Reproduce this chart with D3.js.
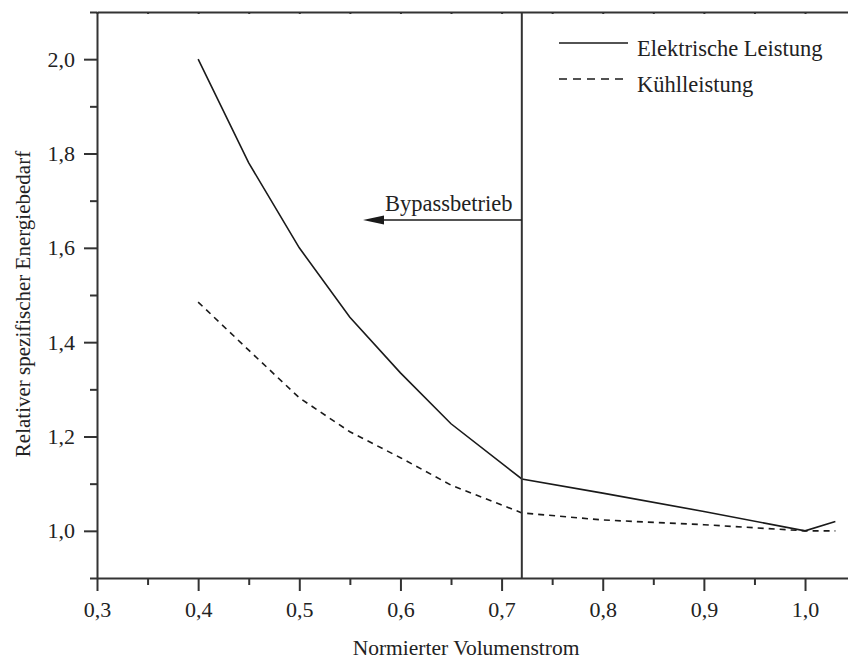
<!DOCTYPE html>
<html>
<head>
<meta charset="utf-8">
<script src="https://cdn.jsdelivr.net/npm/d3@7"></script>
<style>
  body { margin: 0; background: #fff; }
  svg { display: block; font-family: "Liberation Serif", serif; }
  .axis text { font-size: 22px; fill: #222; font-family: "Liberation Serif", serif; }
  .axis path, .axis line { stroke: #333; stroke-width: 2; }
</style>
</head>
<body>
<div class="graph"></div>
<script>
// data
const volumen = [0.4, 0.45, 0.5, 0.55, 0.6, 0.65, 0.72, 0.8, 0.9, 1.0, 1.03];
const elektrisch = [2.0, 1.78, 1.6, 1.453, 1.335, 1.227, 1.11, 1.08, 1.041, 1.0, 1.02];
const kuehlung = [1.485, 1.383, 1.282, 1.21, 1.155, 1.097, 1.038, 1.023, 1.013, 1.0, 1.0];

const xMajor = [0.3, 0.4, 0.5, 0.6, 0.7, 0.8, 0.9, 1.0];
const xMinor = [0.35, 0.45, 0.55, 0.65, 0.75, 0.85, 0.95];
const yMajor = [1.0, 1.2, 1.4, 1.6, 1.8, 2.0];
const yMinor = [0.9, 1.1, 1.3, 1.5, 1.7, 1.9, 2.1];

const bypassX = 0.72;
const seriesNames = ['Elektrische Leistung', 'Kühlleistung'];

const width = 848;
const height = 659;

const svg = d3.select('.graph').append('svg')
  .attr('width', width)
  .attr('height', height);

const x = d3.scaleLinear().domain([0.3, 1.05]).range([97, 855.6]);
const y = d3.scaleLinear().domain([0.9, 2.1]).range([578, 12]);

const fmt = d => d3.format('.1f')(d).replace('.', ',');

// bottom axis
svg.append('g')
  .attr('class', 'axis')
  .attr('transform', 'translate(0,' + y(0.9) + ')')
  .call(d3.axisBottom(x).tickValues(xMajor).tickFormat(fmt).tickSize(13).tickSizeOuter(0).tickPadding(10));

svg.append('g')
  .attr('class', 'axis')
  .attr('transform', 'translate(0,' + y(0.9) + ')')
  .call(d3.axisBottom(x).tickValues(xMinor).tickFormat('').tickSize(7).tickSizeOuter(0))
  .select('.domain').remove();

// left axis
svg.append('g')
  .attr('class', 'axis')
  .attr('transform', 'translate(' + x(0.3) + ',0)')
  .call(d3.axisLeft(y).tickValues(yMajor).tickFormat(fmt).tickSize(13).tickSizeOuter(0).tickPadding(9));

svg.append('g')
  .attr('class', 'axis')
  .attr('transform', 'translate(' + x(0.3) + ',0)')
  .call(d3.axisLeft(y).tickValues(yMinor).tickFormat('').tickSize(7).tickSizeOuter(0))
  .select('.domain').remove();

// top frame line with tiny inner ticks
svg.append('g')
  .attr('class', 'axis')
  .attr('transform', 'translate(0,' + y(2.1) + ')')
  .call(d3.axisTop(x).tickValues(xMajor.concat(xMinor)).tickFormat('').tickSize(-2).tickSizeOuter(0));

// series lines
const line = d3.line()
  .x((d, i) => x(volumen[i]))
  .y(d => y(d));

svg.append('path')
  .datum(elektrisch)
  .attr('d', line)
  .attr('fill', 'none')
  .attr('stroke', '#1a1a1a')
  .attr('stroke-width', 1.6);

svg.append('path')
  .datum(kuehlung)
  .attr('d', line)
  .attr('fill', 'none')
  .attr('stroke', '#1a1a1a')
  .attr('stroke-width', 1.6)
  .attr('stroke-dasharray', '6,5');

// bypass marker
svg.append('line')
  .attr('x1', x(bypassX)).attr('x2', x(bypassX))
  .attr('y1', y(2.1)).attr('y2', y(0.9))
  .attr('stroke', '#333')
  .attr('stroke-width', 2);

const arrowY = 220;
const tipX = 363;
svg.append('line')
  .attr('x1', x(bypassX)).attr('x2', tipX + 12)
  .attr('y1', arrowY).attr('y2', arrowY)
  .attr('stroke', '#1a1a1a')
  .attr('stroke-width', 1.6);

svg.append('path')
  .attr('d', 'M' + tipX + ',' + arrowY + 'L' + (tipX + 21) + ',' + (arrowY - 4.5) + 'L' + (tipX + 21) + ',' + (arrowY + 4.5) + 'Z')
  .attr('fill', '#1a1a1a');

svg.append('text')
  .attr('x', 385)
  .attr('y', 211)
  .style('font-size', '22.5px')
  .style('fill', '#222')
  .text('Bypassbetrieb');

// legend
const legend = svg.selectAll('.legend')
  .data(seriesNames)
  .enter().append('g')
  .attr('class', 'legend')
  .attr('transform', (d, i) => 'translate(559,' + (43 + i * 36) + ')');

legend.append('line')
  .attr('x1', 0).attr('x2', 69)
  .attr('y1', 0).attr('y2', 0)
  .attr('stroke', '#1a1a1a')
  .attr('stroke-width', 1.6)
  .attr('stroke-dasharray', (d, i) => i === 1 ? '8,6' : null);

legend.append('text')
  .attr('x', 78)
  .attr('y', 13)
  .style('font-size', '22.5px')
  .style('fill', '#222')
  .text(d => d);

// axis titles
svg.append('text')
  .attr('x', 466)
  .attr('y', 655)
  .attr('text-anchor', 'middle')
  .style('font-size', '21.5px')
  .style('fill', '#222')
  .text('Normierter Volumenstrom');

svg.append('text')
  .attr('transform', 'translate(30,304) rotate(-90)')
  .attr('text-anchor', 'middle')
  .style('font-size', '21px')
  .style('fill', '#222')
  .text('Relativer spezifischer Energiebedarf');
</script>
</body>
</html>
